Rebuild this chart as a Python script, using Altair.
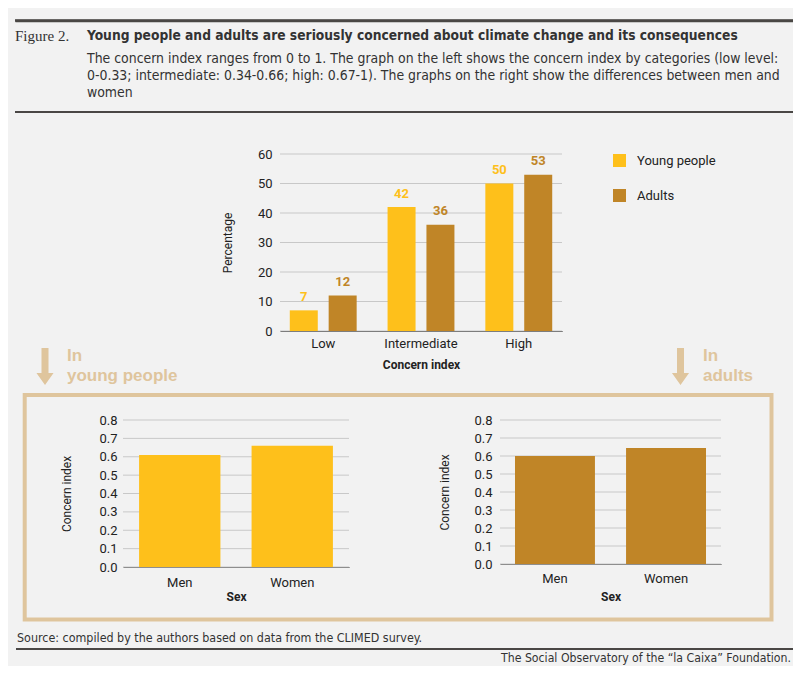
import altair as alt
import pandas as pd

# ---------------- data ----------------
categories = ["Low", "Intermediate", "High"]
groups = ["Young people", "Adults"]
young_pct = [7, 42, 50]
adult_pct = [12, 36, 53]
pct_ticks = [0, 10, 20, 30, 40, 50, 60]

sexes = ["Men", "Women"]
young_index = [0.61, 0.66]
adult_index = [0.60, 0.645]
index_ticks = [0, 0.1, 0.2, 0.3, 0.4, 0.5, 0.6, 0.7, 0.8]

fig_label = "Figure 2."
title_text = "Young people and adults are seriously concerned about climate change and its consequences"
desc_lines = [
    "The concern index ranges from 0 to 1. The graph on the left shows the concern index by categories (low level:",
    "0-0.33; intermediate: 0.34-0.66; high: 0.67-1). The graphs on the right show the differences between men and",
    "women",
]
young_tag = ["In", "young people"]
adult_tag = ["In", "adults"]
source_text = "Source: compiled by the authors based on data from the CLIMED survey."
footer_text = "The Social Observatory of the \u201cla Caixa\u201d Foundation."

# ---------------- styles ----------------
YELLOW = "#FEC01B"
BROWN = "#C08527"
BEIGE = "#DFC59D"
DARK = "#4a4745"
TXT = "#222222"
GRID = "#c8c8c8"
NARROW = "Liberation Sans Narrow, DejaVu Sans Condensed, Roboto, sans-serif"
TAGFONT = "Liberation Sans, Roboto, sans-serif"
W, H = 785, 658

one = pd.DataFrame({"t": [""]})
two = pd.DataFrame({"u": [""]})


def text_layer(txt, x, y, **kw):
    return alt.Chart(pd.DataFrame({"t": [txt]})).mark_text(**kw).encode(
        text="t:N", x=alt.value(x), y=alt.value(y)
    )


def hrule(x1, x2, y, width=2, data=one):
    return alt.Chart(data).mark_rule(color=DARK, strokeWidth=width).encode(
        x=alt.value(x1), x2=alt.value(x2), y=alt.value(y)
    )


layers = []

# ---------------- header ----------------
layers += [
    text_layer(fig_label, 7, 28, align="left", baseline="middle",
               font="Liberation Serif, DejaVu Serif, serif", fontSize=15, color="#333"),
    text_layer(title_text, 79, 28, align="left", baseline="middle",
               font=NARROW, fontSize=13.7, fontWeight="bold", color="#333"),
    text_layer("\n".join(desc_lines), 79, 55, align="left", baseline="alphabetic",
               font=NARROW, fontSize=13.9, lineBreak="\n", lineHeight=17, color="#333"),
    hrule(7, 785, 104),
]

# ---------------- top grouped bar chart ----------------
TOP_X = [272, 554]
TOP_Y = [323, 146]
top_df = pd.DataFrame({
    "cat": categories * 2,
    "group": [groups[0]] * 3 + [groups[1]] * 3,
    "val": young_pct + adult_pct,
})


def top_x(axis):
    return alt.X("cat:N", sort=categories,
                 scale=alt.Scale(range=TOP_X, paddingInner=0.316, paddingOuter=0.1),
                 axis=axis)


def top_y(axis):
    return alt.Y("val:Q", scale=alt.Scale(domain=[0, 60], range=TOP_Y), axis=axis)


txo = alt.XOffset("group:N", sort=groups, scale=alt.Scale(paddingInner=0.28))

top_grid = alt.Chart(pd.DataFrame({"val": pct_ticks})).mark_rule(
    color=GRID, strokeWidth=1).encode(
    y=top_y(None), x=alt.value(TOP_X[0]), x2=alt.value(TOP_X[1]))

top_bars = alt.Chart(top_df).mark_bar().encode(
    x=top_x(alt.Axis(title="Concern index", orient="bottom", offset=-(H - TOP_Y[0]),
                     labelAngle=0, ticks=False, tickSize=0, labelPadding=6,
                     titlePadding=9, titleFontWeight="bold", domainColor="#333", grid=False)),
    xOffset=txo,
    y=top_y(alt.Axis(title="Percentage", orient="left", offset=-TOP_X[0], values=pct_ticks,
                     domain=False, ticks=False, tickSize=0, labelPadding=8,
                     titlePadding=23, titleFontWeight="normal", grid=False)),
    color=alt.Color("group:N", sort=groups,
                    scale=alt.Scale(domain=groups, range=[YELLOW, BROWN]),
                    legend=alt.Legend(title=None, orient="none", legendX=605, legendY=146,
                                      symbolType="square", symbolSize=169,
                                      symbolStrokeWidth=0, labelFontSize=13,
                                      labelOffset=11, rowPadding=21, labelColor=TXT)),
)

top_labels = alt.Chart(top_df).mark_text(baseline="alphabetic", dy=-9.5, fontSize=13,
                                         fontWeight="bold").encode(
    x=top_x(None), xOffset=txo, y=top_y(None), text="val:Q",
    color=alt.Color("group:N", sort=groups,
                    scale=alt.Scale(domain=groups, range=[YELLOW, BROWN]), legend=None))

layers += [top_grid, top_bars, top_labels]

# ---------------- arrows, tags, frame ----------------
ARROW = "M-0.184,-0.974 L0.184,-0.974 L0.184,0.34 L0.45,0.34 L0,0.974 L-0.45,0.34 L-0.184,0.34 Z"


def arrow(x, y):
    return alt.Chart(one).mark_point(shape=ARROW, filled=True, size=1444, fill=BEIGE,
                                     strokeWidth=0, opacity=1).encode(
        x=alt.value(x), y=alt.value(y))


layers += [
    arrow(37, 358.5),
    text_layer("\n".join(young_tag), 59, 353, align="left", baseline="alphabetic",
               font=TAGFONT, fontSize=17, fontWeight="bold",
               lineBreak="\n", lineHeight=20, color=BEIGE),
    arrow(672.5, 358.5),
    text_layer("\n".join(adult_tag), 695, 353, align="left", baseline="alphabetic",
               font=TAGFONT, fontSize=17, fontWeight="bold",
               lineBreak="\n", lineHeight=20, color=BEIGE),
    alt.Chart(one).mark_rect(fillOpacity=0, stroke=BEIGE, strokeWidth=4).encode(
        x=alt.value(16.7), x2=alt.value(763.5), y=alt.value(387), y2=alt.value(611.5)),
]


# ---------------- bottom bar charts ----------------
def sex_layers(values, color, xr, yr, pin, pout, ylab_pad, ytitle_pad, xlab_pad, xtitle_pad):
    df = pd.DataFrame({"sex": sexes, "v": values})
    ysc = alt.Scale(domain=[0, 0.8], range=yr)
    grid = alt.Chart(pd.DataFrame({"v": index_ticks})).mark_rule(
        color=GRID, strokeWidth=1).encode(
        y=alt.Y("v:Q", scale=ysc, axis=None), x=alt.value(xr[0]), x2=alt.value(xr[1]))
    bars = alt.Chart(df).mark_bar(color=color).encode(
        x=alt.X("sex:N", sort=sexes,
                scale=alt.Scale(range=xr, paddingInner=pin, paddingOuter=pout),
                axis=alt.Axis(title="Sex", orient="bottom", offset=-(H - yr[0]),
                              labelAngle=0, ticks=False, tickSize=0,
                              labelPadding=xlab_pad, titlePadding=xtitle_pad,
                              titleFontWeight="bold", domainColor="#555", grid=False)),
        y=alt.Y("v:Q", scale=ysc,
                axis=alt.Axis(title="Concern index", orient="left", offset=-xr[0],
                              format=".1f", values=index_ticks,
                              domain=False, ticks=False, tickSize=0, labelPadding=ylab_pad,
                              titlePadding=ytitle_pad, titleFontWeight="normal", grid=False)),
    )
    return [grid, bars]


layers += sex_layers(young_index, YELLOW, [115, 341], [559, 412], 0.277, 0.143, 6, 25, 9, 2)
layers += sex_layers(adult_index, BROWN, [492, 713], [556, 412], 0.28, 0.135, 8, 22, 8, 6)

# ---------------- footer ----------------
layers += [
    text_layer(source_text, 9, 630, align="left", baseline="middle", font=NARROW,
               fontSize=12.4, color="#333"),
    hrule(8, 785, 641),
    text_layer(footer_text, 783, 650, align="right", baseline="middle", font=NARROW,
               fontSize=12.2, color="#333"),
]

# ---------------- top rule of the header ----------------
# drawn as a rule mark and, in addition, as the domain line of a label-less top axis
layers += [
    hrule(7, 785, 12.5, width=2.5, data=two),
    alt.Chart(pd.DataFrame({"edge": [0, 1]})).mark_point(opacity=0).encode(
        x=alt.X("edge:Q", scale=alt.Scale(domain=[0, 1], range=[7, 785], nice=False),
                axis=alt.Axis(orient="top", offset=-12.5, title=None, labels=False,
                              ticks=False, grid=False, domainColor=DARK, domainWidth=2.5)),
        y=alt.value(12.5),
    ),
]

chart = alt.layer(*layers).resolve_scale(
    x="independent", y="independent", color="independent"
).properties(
    width=W, height=H, padding=0,
    autosize=alt.AutoSizeParams(type="none"),
).configure(
    background="#f2f2f2", font="Roboto"
).configure_view(
    stroke=None
).configure_axis(
    labelFont="Roboto", titleFont="Roboto", labelColor=TXT, titleColor=TXT,
    labelFontSize=13, titleFontSize=12
).configure_legend(
    labelFont="Roboto"
)

chart.save("out.html", embed_options={"renderer": "svg", "actions": False})
